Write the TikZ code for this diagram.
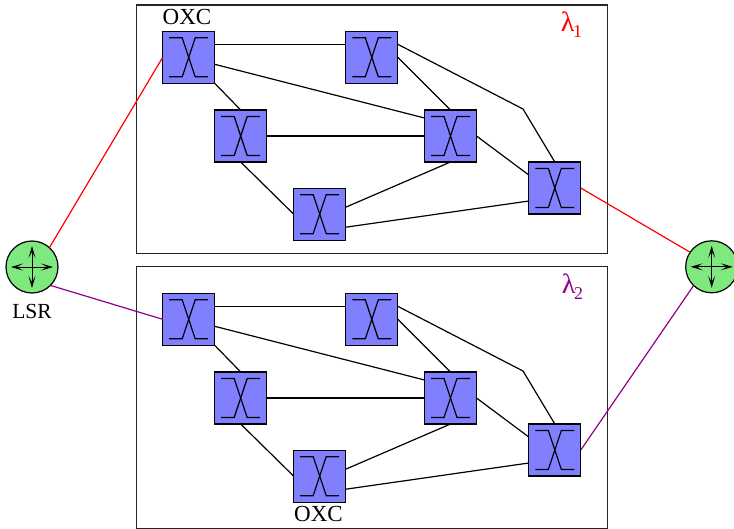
\documentclass[tikz,border=0pt]{standalone}
\usepackage{fontspec}
\setmainfont{Liberation Serif}
\usetikzlibrary{arrows.meta}
\definecolor{oxcblue}{HTML}{8080FF}
\definecolor{lsrgreen}{HTML}{7FE87F}
\definecolor{lampurple}{HTML}{8F008F}
\tikzset{
  oxc/.style={draw=black,line width=1.2pt,fill=oxcblue,minimum size=52pt,inner sep=0pt,outer sep=0pt,
    path picture={
      \draw[black,line width=1.2pt] ([shift={(-19.5pt,19.5pt)}]path picture bounding box.center) -- ++(13pt,0pt) -- ++(13pt,-39pt) -- ++(13pt,0pt);
      \draw[black,line width=1.2pt] ([shift={(-19.5pt,-19.5pt)}]path picture bounding box.center) -- ++(13pt,0pt) -- ++(13pt,39pt) -- ++(13pt,0pt);
    }},
  lsr/.style={circle,draw=black,line width=1.2pt,fill=lsrgreen,minimum size=52pt,inner sep=0pt,outer sep=0pt,
    path picture={
      \draw[black,line width=1pt,{Stealth[length=12pt,width=7pt,inset=6pt]}-{Stealth[length=12pt,width=7pt,inset=6pt]}]
        ([xshift=-21pt]path picture bounding box.center) -- ([xshift=21pt]path picture bounding box.center);
      \draw[black,line width=1pt,{Stealth[length=12pt,width=7pt,inset=6pt]}-{Stealth[length=12pt,width=7pt,inset=6pt]}]
        ([yshift=-21pt]path picture bounding box.center) -- ([yshift=21pt]path picture bounding box.center);
    }},
  link/.style={draw=black,line width=1.2pt},
  panel/.style={draw=black!85,line width=1.2pt},
  txt/.style={font=\fontsize{23}{23}\selectfont,inner sep=0pt,text=black},
  lam/.style={font=\fontsize{28}{28}\selectfont,inner sep=0pt},
  redlink/.style={draw=red,line width=1.2pt},
  purplelink/.style={draw=lampurple,line width=1.2pt}
}
\newcommand{\lamsub}[1]{λ\kern-1.5pt\raisebox{-6pt}{\fontsize{18}{18}\selectfont #1}}
\begin{document}
\begin{tikzpicture}[x=1pt,y=-1pt]
\path[use as bounding box,clip] (0,0) rectangle (734,528);
\draw[panel] (136.5,5) rectangle (607.5,253.4);
\draw[panel] (136.5,266.8) rectangle (607.5,528.6);

\foreach \s/\dy in {a/0,b/262}{
  \begin{scope}[yshift=-\dy pt]
  \node[oxc] (\s1) at (188.7,57.3) {};
  \node[oxc] (\s2) at (371.8,57.3) {};
  \node[oxc] (\s3) at (240.7,136) {};
  \node[oxc] (\s4) at (450.5,136) {};
  \node[oxc] (\s5) at (319.7,214.2) {};
  \node[oxc] (\s6) at (554.8,188) {};
  \coordinate (\s k) at (523,109);
  \end{scope}
  \draw[link] ([yshift=13pt]\s1.east) -- ([yshift=13pt]\s2.west);
  \draw[link] ([yshift=-7pt]\s1.east) -- ([yshift=18pt]\s4.west);
  \draw[link] (\s1.south east) -- (\s3.north);
  \draw[link] (\s3.east) -- (\s4.west);
  \draw[link] (\s3.south) -- (\s5.west);
  \draw[link] ([yshift=7pt]\s5.east) -- (\s4.south);
  \draw[link] ([yshift=-13pt]\s5.east) -- ([yshift=-13pt]\s6.west);
  \draw[link] (\s2.east) -- (\s4.north);
  \draw[link] ([yshift=13pt]\s2.east) -- (\s k) -- (\s6.north);
  \draw[link] (\s4.east) -- ([yshift=13pt]\s6.west);
}

\node[lsr] (L) at (32,267) {};
\node[lsr] (R) at (711.7,266.8) {};
\draw[redlink] (L.48) -- (a1.west);
\draw[redlink] (a6.east) -- (R.146);
\draw[purplelink] (L.-45) -- (b1.west);
\draw[purplelink] (b6.east) -- (R.226);

\node[txt] (t1) at (187,17) {OXC};
\node[txt] (t2) at (318.5,514) {OXC};
\node[txt,font=\fontsize{21.5}{21.5}\selectfont] (t3) at (32,311) {LSR};
\node[lam,text=red] (l1) at (571.5,25) {\lamsub{1}};
\node[lam,text=lampurple] (l2) at (572.5,287) {\lamsub{2}};
\end{tikzpicture}
\end{document}
